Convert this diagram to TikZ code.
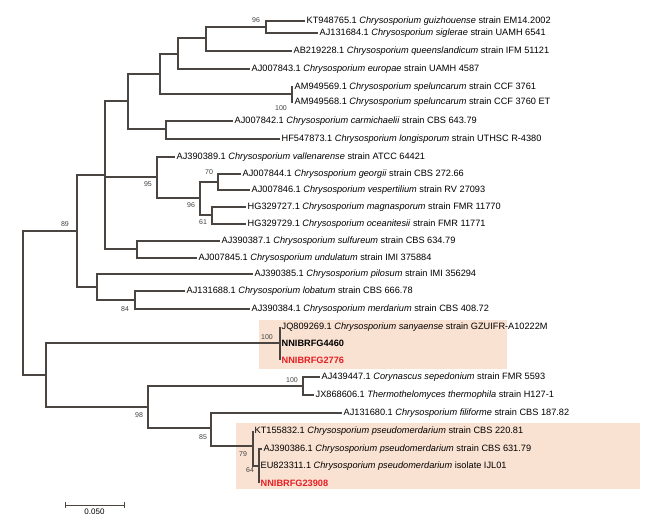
\documentclass[tikz,border=0pt]{standalone}
\usepackage{fontspec}
\setmainfont{Liberation Sans}
\usetikzlibrary{positioning}
\definecolor{branch}{RGB}{74,69,65}
\definecolor{boxfill}{RGB}{250,226,210}
\definecolor{hired}{RGB}{230,30,35}
\tikzset{
  leaf/.style={anchor=west, inner sep=1.5pt, font=\fontsize{9.2}{10}\selectfont},
  boot/.style={font=\fontsize{7}{8}\selectfont, text=black!75, inner sep=1pt},
  br/.style={draw=branch, line width=1.1pt},
}
\newcommand{\taxon}[1]{\textit{#1}}
\begin{document}
\begin{tikzpicture}[x=1pt, y=-1pt]
\useasboundingbox (0,0) rectangle (667,526);

% highlighted clades
\fill[boxfill] (259,320) rectangle (507,369);
\fill[boxfill] (236,423) rectangle (640,489);

% leaves
\node[leaf] (l1) at (305,21) {KT948765.1 \taxon{Chrysosporium guizhouense} strain EM14.2002};
\node[leaf] (l2) at (318,33) {AJ131684.1 \taxon{Chrysosporium siglerae} strain UAMH 6541};
\node[leaf] (l3) at (292,51) {AB219228.1 \taxon{Chrysosporium queenslandicum} strain IFM 51121};
\node[leaf] (l4) at (250,69) {AJ007843.1 \taxon{Chrysosporium europae} strain UAMH 4587};
\node[leaf] (l5) at (293,87) {AM949569.1 \taxon{Chrysosporium speluncarum} strain CCF 3761};
\node[leaf] (l6) at (293,102) {AM949568.1 \taxon{Chrysosporium speluncarum} strain CCF 3760 ET};
\node[leaf] (l7) at (233,121) {AJ007842.1 \taxon{Chrysosporium carmichaelii} strain CBS 643.79};
\node[leaf] (l8) at (280,139) {HF547873.1 \taxon{Chrysosporium longisporum} strain UTHSC R-4380};
\node[leaf] (l9) at (175,157) {AJ390389.1 \taxon{Chrysosporium vallenarense} strain ATCC 64421};
\node[leaf] (l10) at (241,174) {AJ007844.1 \taxon{Chrysosporium georgii} strain CBS 272.66};
\node[leaf] (l11) at (250,190) {AJ007846.1 \taxon{Chrysosporium vespertilium} strain RV 27093};
\node[leaf] (l12) at (246,207) {HG329727.1 \taxon{Chrysosporium magnasporum} strain FMR 11770};
\node[leaf] (l13) at (246,224) {HG329729.1 \taxon{Chrysosporium oceanitesii} strain FMR 11771};
\node[leaf] (l14) at (220,241) {AJ390387.1 \taxon{Chrysosporium sulfureum} strain CBS 634.79};
\node[leaf] (l15) at (197,258) {AJ007845.1 \taxon{Chrysosporium undulatum} strain IMI 375884};
\node[leaf] (l16) at (253,274) {AJ390385.1 \taxon{Chrysosporium pilosum} strain IMI 356294};
\node[leaf] (l17) at (185,291) {AJ131688.1 \taxon{Chrysosporium lobatum} strain CBS 666.78};
\node[leaf] (l18) at (250,309) {AJ390384.1 \taxon{Chrysosporium merdarium} strain CBS 408.72};
\node[leaf] (l19) at (280,327) {JQ809269.1 \taxon{Chrysosporium sanyaense} strain GZUIFR-A10222M};
\node[leaf] (l20) at (280,343) {\textbf{NNIBRFG4460}};
\node[leaf, text=hired] (l21) at (280,360) {\textbf{NNIBRFG2776}};
\node[leaf] (l22) at (320,377) {AJ439447.1 \taxon{Corynascus sepedonium} strain FMR 5593};
\node[leaf] (l23) at (314,395) {JX868606.1 \taxon{Thermothelomyces thermophila} strain H127-1};
\node[leaf] (l24) at (342,413) {AJ131680.1 \taxon{Chrysosporium filiforme} strain CBS 187.82};
\node[leaf] (l25) at (253,431) {KT155832.1 \taxon{Chrysosporium pseudomerdarium} strain CBS 220.81};
\node[leaf] (l26) at (262,449) {AJ390386.1 \taxon{Chrysosporium pseudomerdarium} strain CBS 631.79};
\node[leaf] (l27) at (259,466) {EU823311.1 \taxon{Chrysosporium pseudomerdarium} isolate IJL01};
\node[leaf, text=hired] (l28) at (259,483) {\textbf{NNIBRFG23908}};

% internal nodes
\coordinate (root) at (23,303);
\coordinate (n89) at (77,231);
\coordinate (nE) at (105,175);
\coordinate (nD) at (128,101);
\coordinate (nC) at (160,74);
\coordinate (nB) at (178,54);
\coordinate (nA) at (206,38);
\coordinate (n96) at (266,27);
\coordinate (nSp) at (292,94);
\coordinate (nCa) at (166,129);
\coordinate (n95) at (157,177);
\coordinate (n96b) at (200,198);
\coordinate (n70) at (218,182);
\coordinate (n61) at (212,215);
\coordinate (nSu) at (137,249);
\coordinate (nPi) at (97,287);
\coordinate (n84) at (135,300);
\coordinate (nLow) at (46,375);
\coordinate (nSa) at (280,343);
\coordinate (n98) at (148,407);
\coordinate (n100) at (303,386);
\coordinate (n85) at (211,428);
\coordinate (n79) at (253,446);
\coordinate (n64) at (259,466);

% branches
\draw[br] (root) |- (n89);  \draw[br] (root) |- (nLow);
\draw[br] (n89) |- (nE);    \draw[br] (n89) |- (nPi);
\draw[br] (nE) |- (nD);     \draw[br] (nE) |- (n95);   \draw[br] (nE) |- (nSu);
\draw[br] (nD) |- (nC);     \draw[br] (nD) |- (nCa);
\draw[br] (nC) |- (nB);     \draw[br] (nC) |- (nSp);
\draw[br] (nB) |- (nA);     \draw[br] (nB) |- (l4.west);
\draw[br] (nA) |- (n96);    \draw[br] (nA) |- (l3.west);
\draw[br] (n96) |- (l1.west); \draw[br] (n96) |- (l2.west);
\draw[br] (nSp) |- (l5.west); \draw[br] (nSp) |- (l6.west);
\draw[br] (nCa) |- (l7.west); \draw[br] (nCa) |- (l8.west);
\draw[br] (n95) |- (l9.west); \draw[br] (n95) |- (n96b);
\draw[br] (n96b) |- (n70);  \draw[br] (n96b) |- (n61);
\draw[br] (n70) |- (l10.west); \draw[br] (n70) |- (l11.west);
\draw[br] (n61) |- (l12.west); \draw[br] (n61) |- (l13.west);
\draw[br] (nSu) |- (l14.west); \draw[br] (nSu) |- (l15.west);
\draw[br] (nPi) |- (l16.west); \draw[br] (nPi) |- (n84);
\draw[br] (n84) |- (l17.west); \draw[br] (n84) |- (l18.west);
\draw[br] (nLow) |- (nSa);  \draw[br] (nLow) |- (n98);
\draw[br] (nSa) |- (l19.west); \draw[br] (nSa) -- (l20.west); \draw[br] (nSa) |- (l21.west);
\draw[br] (n98) |- (n100);  \draw[br] (n98) |- (n85);
\draw[br] (n100) |- (l22.west); \draw[br] (n100) |- (l23.west);
\draw[br] (n85) |- (l24.west); \draw[br] (n85) |- (n79);
\draw[br] (n79) |- (l25.west); \draw[br] (n79) |- (n64);
\draw[br] (n64) |- (l26.west); \draw[br] (n64) -- (l27.west); \draw[br] (n64) |- (l28.west);

% bootstrap values
\node[boot] (b1) at (256,20) {96};
\node[boot] (b2) at (281,108) {100};
\node[boot] (b3) at (148,184) {95};
\node[boot] (b4) at (209,172) {70};
\node[boot] (b5) at (191,205) {96};
\node[boot] (b6) at (203,222) {61};
\node[boot] (b7) at (65,224) {89};
\node[boot] (b8) at (125,309) {84};
\node[boot] (b9) at (267,337) {100};
\node[boot] (b10) at (292,380) {100};
\node[boot] (b11) at (139,415) {98};
\node[boot] (b12) at (203,437) {85};
\node[boot] (b13) at (243,454) {79};
\node[boot] (b14) at (250,470) {64};

% scale bar
\coordinate (s1) at (65,505);
\coordinate (s2) at (124,505);
\coordinate (smid) at (94.5,505);
\draw[br, line width=0.8pt] (s1) -- (s2);
\draw[br, line width=0.8pt] ([yshift=-3pt]s1) -- ([yshift=3pt]s1);
\draw[br, line width=0.8pt] ([yshift=-3pt]s2) -- ([yshift=3pt]s2);
\node[boot, text=black, font=\fontsize{8}{9}\selectfont, below=3pt of smid] (sl) {0.050};
\end{tikzpicture}
\end{document}
